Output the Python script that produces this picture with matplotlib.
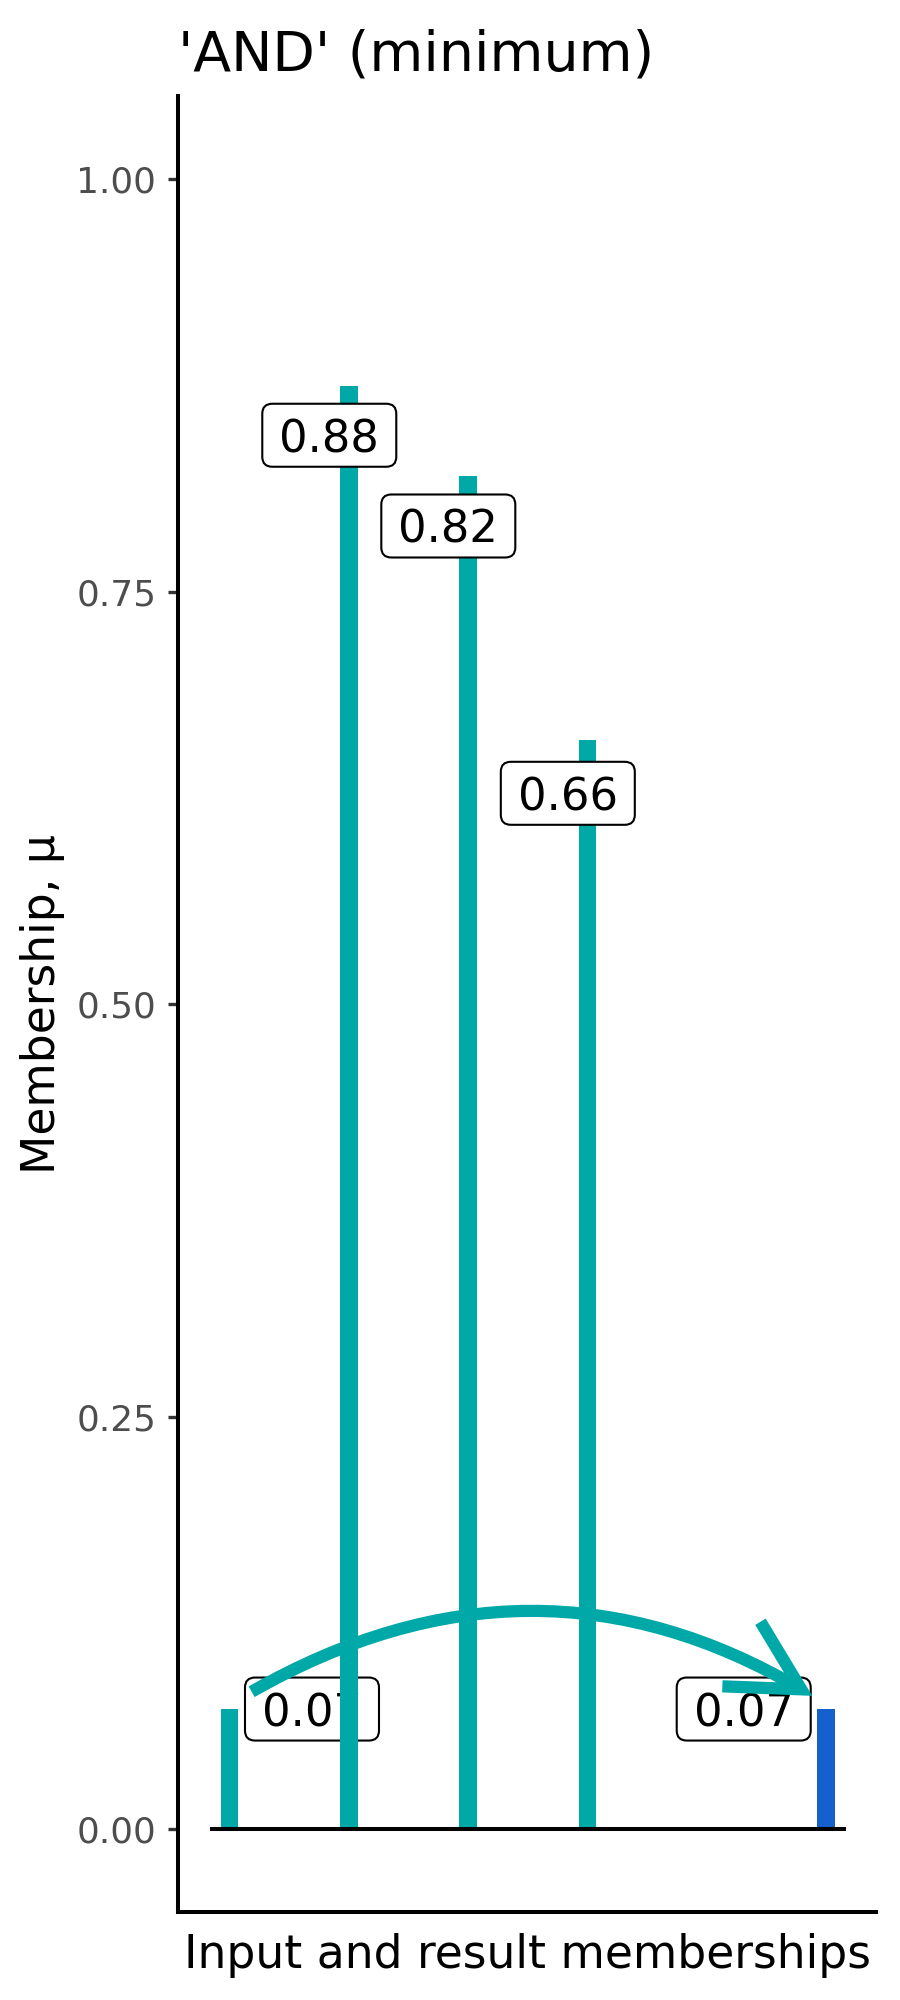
import matplotlib
matplotlib.use("Agg")
from matplotlib import pyplot as plt
from matplotlib import transforms as mtransforms
from matplotlib.patches import FancyBboxPatch, FancyArrowPatch, ArrowStyle

plt.rcParams['font.family'] = ['DejaVu Sans']

# data
positions = [1, 2, 3, 4, 6]                  # four inputs, gap, result
memberships = [0.073, 0.875, 0.82, 0.66, 0.073]
bar_colors = ["#00A8A8", "#00A8A8", "#00A8A8", "#00A8A8", "#1560CC"]
label_texts = ["{:.2f}".format(v) for v in memberships]

# label nudges (x, y) in data units
label_dx = [0.69, -0.165, -0.167, -0.165, -0.69]
label_dy = [0.0, -0.030, -0.030, -0.032, 0.0]

teal = "#00A8A8"

fig = plt.figure(figsize=(9, 20), dpi=100)
ax = fig.add_axes([178 / 900, 1 - 1912 / 2000, (875.5 - 178) / 900, (1912 - 96.5) / 2000])

# bars + boxed labels, drawn one after the other
for i, (x, v, c, s) in enumerate(zip(positions, memberships, bar_colors, label_texts)):
    ax.bar(x, v, width=0.147, color=c, zorder=2 + 2 * i)
    lx, ly = x + label_dx[i], v + label_dy[i]
    trans = fig.dpi_scale_trans + mtransforms.ScaledTranslation(lx, ly, ax.transData)
    box = FancyBboxPatch((-0.67, -0.315), 1.34, 0.63,
                         boxstyle="round,pad=0,rounding_size=0.1",
                         facecolor="white", edgecolor="black", linewidth=1.5,
                         transform=trans, zorder=3 + 2 * i)
    ax.add_patch(box)
    ax.text(lx, ly, s, ha="center", va="center_baseline", fontsize=32.3,
            color="black", zorder=3.5 + 2 * i)

# zero line
ax.hlines(0, 0.835, 6.165, color="black", linewidth=2.9, zorder=15)

# curved arrow from the inputs to the result
arrow = FancyArrowPatch((positions[0] + 0.184, memberships[0] + 0.0105),
                        (positions[-1] - 0.115, memberships[-1] + 0.008),
                        connectionstyle="arc3,rad=-0.29",
                        arrowstyle=ArrowStyle("->", head_length=50, head_width=27),
                        mutation_scale=1, linewidth=8.8, color=teal,
                        capstyle="butt", joinstyle="miter",
                        shrinkA=0, shrinkB=0, zorder=20)
ax.add_patch(arrow)

# axes
ax.set_xlim(0.5665, 6.415)
ax.set_ylim(-0.05, 1.0503)
ax.set_yticks([0, 0.25, 0.5, 0.75, 1.0])
ax.set_yticklabels(["0.00", "0.25", "0.50", "0.75", "1.00"])
ax.set_xticks([])
ax.tick_params(axis="y", length=7.2, width=2.4, color="#333333",
               labelsize=25.8, labelcolor="#4D4D4D", pad=8.4)
for side in ["top", "right"]:
    ax.spines[side].set_visible(False)
for side in ["left", "bottom"]:
    ax.spines[side].set_linewidth(2.9)
    ax.spines[side].set_color("black")

# titles
fig.text(178 / 900, 1 - 70 / 2000, "'AND' (minimum)", ha="left", va="baseline",
         fontsize=39.9, color="black")
fig.text(528 / 900, 1 - 1968 / 2000, "Input and result memberships", ha="center",
         va="baseline", fontsize=32.9, color="black")
fig.text(43 / 900, 1 - 1004 / 2000, "Membership, μ", ha="center", va="center",
         rotation=90, fontsize=32.9, color="black")

fig.savefig("out.png", dpi=100)
